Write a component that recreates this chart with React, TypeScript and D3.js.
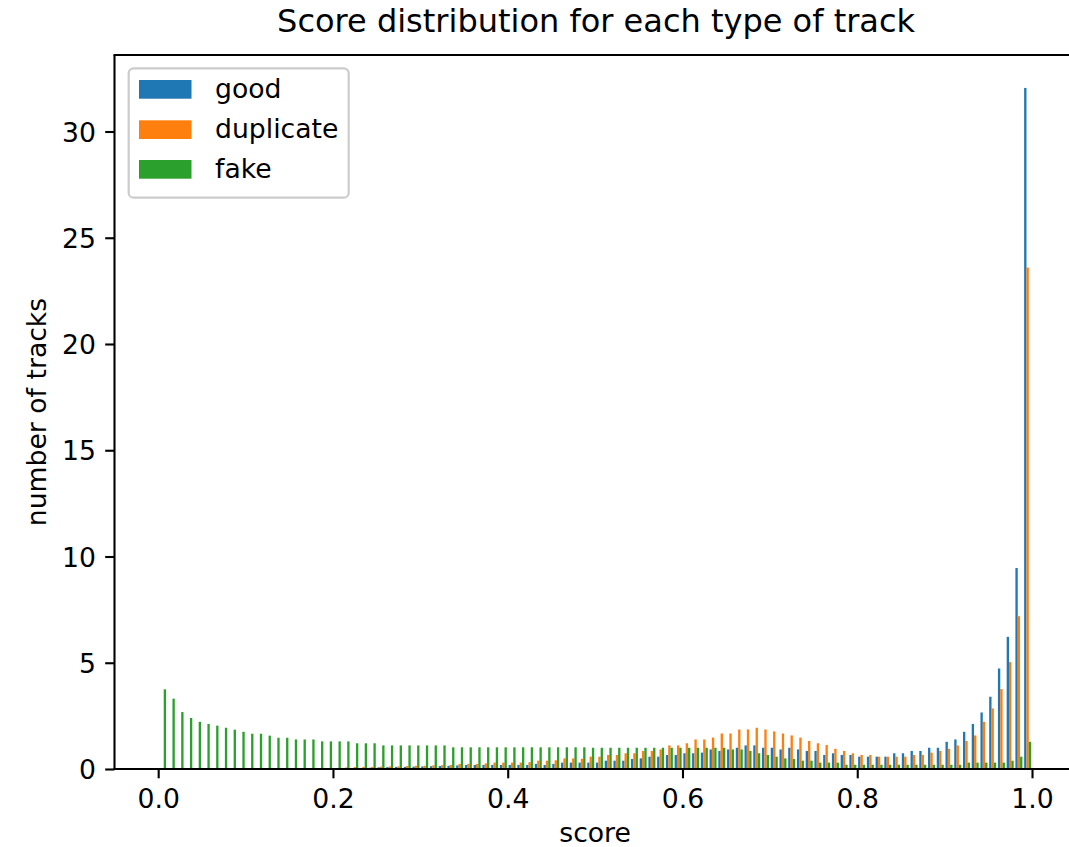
import React, { useEffect, useRef } from "react";
import * as d3 from "d3";

// 100 bins of width 0.01 from 0 to 1, density values
const binEdges = d3.range(0, 101).map((i) => i / 100);

const good = [
  0, 0, 0, 0, 0, 0, 0, 0, 0, 0,
  0, 0, 0, 0, 0, 0, 0, 0, 0, 0,
  0.02, 0.03, 0.04, 0.05, 0.06, 0.08, 0.09, 0.1, 0.1, 0.11,
  0.12, 0.13, 0.14, 0.15, 0.17, 0.19, 0.19, 0.19, 0.19, 0.19,
  0.19, 0.19, 0.19, 0.24, 0.19, 0.24, 0.3, 0.3, 0.3, 0.3,
  0.3, 0.39, 0.39, 0.39, 0.47, 0.5, 0.58, 0.58, 0.66, 0.66,
  0.74, 0.74, 0.77, 0.92, 0.85, 0.92, 1.0, 1.11, 1.11, 1.0,
  1.0, 0.92, 1.0, 0.92, 0.85, 0.85, 0.66, 0.74, 0.66, 0.66,
  0.58, 0.58, 0.58, 0.58, 0.74, 0.74, 0.85, 0.85, 1.0, 1.0,
  1.28, 1.39, 1.75, 2.12, 2.66, 3.4, 4.73, 6.22, 9.46, 32.05,
];

const duplicate = [
  0, 0, 0, 0, 0, 0, 0, 0, 0, 0,
  0, 0, 0, 0, 0, 0, 0, 0, 0.03, 0.04,
  0.05, 0.07, 0.09, 0.1, 0.1, 0.11, 0.12, 0.12, 0.14, 0.15,
  0.15, 0.17, 0.18, 0.19, 0.24, 0.24, 0.24, 0.26, 0.3, 0.3,
  0.3, 0.3, 0.32, 0.39, 0.39, 0.41, 0.5, 0.5, 0.48, 0.58,
  0.58, 0.66, 0.66, 0.74, 0.74, 0.85, 0.85, 0.92, 1.11, 1.11,
  1.21, 1.39, 1.39, 1.48, 1.67, 1.67, 1.86, 1.86, 1.94, 1.86,
  1.77, 1.67, 1.58, 1.48, 1.32, 1.21, 1.13, 0.95, 0.85, 0.74,
  0.66, 0.66, 0.58, 0.58, 0.58, 0.58, 0.66, 0.66, 0.77, 0.85,
  0.95, 1.11, 1.32, 1.58, 2.22, 2.85, 3.76, 5.03, 7.19, 23.6,
];

const fake = [
  3.75, 3.31, 2.68, 2.4, 2.22, 2.12, 2.04, 1.94, 1.85, 1.75,
  1.66, 1.66, 1.57, 1.47, 1.47, 1.39, 1.39, 1.39, 1.3, 1.3,
  1.3, 1.3, 1.21, 1.21, 1.21, 1.11, 1.11, 1.11, 1.11, 1.11,
  1.11, 1.11, 1.11, 1.02, 1.02, 1.02, 1.02, 1.02, 1.02, 1.02,
  1.02, 1.02, 1.02, 1.02, 1.02, 1.02, 1.02, 1.02, 1.02, 1.0,
  1.0, 1.0, 1.0, 1.0, 1.0, 1.0, 1.0, 1.0, 1.0, 1.0,
  1.0, 1.0, 1.0, 1.0, 1.0, 0.92, 0.92, 0.85, 0.74, 0.66,
  0.58, 0.5, 0.47, 0.39, 0.39, 0.3, 0.3, 0.3, 0.2, 0.2,
  0.2, 0.2, 0.2, 0.2, 0.2, 0.2, 0.2, 0.2, 0.2, 0.2,
  0.2, 0.2, 0.3, 0.3, 0.3, 0.3, 0.3, 0.39, 0.58, 1.28,
];

const seriesNames = ["good", "duplicate", "fake"];
const seriesColors = ["#1f77b4", "#ff7f0e", "#2ca02c"];
const xTicks = [0, 0.2, 0.4, 0.6, 0.8, 1.0];
const yTicks = [0, 5, 10, 15, 20, 25, 30];

const FONT = "DejaVu Sans, sans-serif";

const App = () => {
  const chartRef = useRef<SVGSVGElement>(null);

  useEffect(() => {
    const svg = d3.select(chartRef.current);
    svg.selectAll("*").remove();

    const width = 1069;
    const height = 847;
    // right edge of the axes lies past the picture, as in the cropped original
    const plot = { left: 114.5, right: 1075.7, top: 55, bottom: 769 };
    const fs = 26.67;

    const x = d3.scaleLinear().domain([-0.05, 1.05]).range([plot.left, plot.right]);
    const y = d3.scaleLinear().domain([0, 33.6]).range([plot.bottom, plot.top]);

    svg.attr("width", width).attr("height", height);

    svg.append("rect").attr("width", width).attr("height", height).attr("fill", "#fff");

    // Bars: three side-by-side bars per bin, 80% of bin width in total
    const allSeries = [good, duplicate, fake];
    const nx = allSeries.length;
    const bars = svg.append("g");
    allSeries.forEach((values, s) => {
      bars
        .append("g")
        .attr("fill", seriesColors[s])
        .selectAll("rect")
        .data(values)
        .enter()
        .append("rect")
        .attr("x", (d, i) => {
          const w = binEdges[i + 1] - binEdges[i];
          const center = (binEdges[i] + binEdges[i + 1]) / 2;
          const barW = (0.8 * w) / nx;
          const left = center - 0.4 * w + s * barW;
          return x(left);
        })
        .attr("width", (d, i) => x(binEdges[i] + (0.8 * (binEdges[i + 1] - binEdges[i])) / nx) - x(binEdges[i]))
        .attr("y", (d) => y(d))
        .attr("height", (d) => y(0) - y(d));
    });

    // Spines (left, bottom, top; the right one is cut off)
    const spines = svg.append("g").attr("stroke", "#000").attr("stroke-width", 2.1).attr("fill", "none");
    spines.append("line").attr("x1", plot.left).attr("x2", plot.left).attr("y1", plot.top).attr("y2", plot.bottom);
    spines.append("line").attr("x1", plot.left - 1).attr("x2", width).attr("y1", plot.bottom).attr("y2", plot.bottom);
    spines.append("line").attr("x1", plot.left - 1).attr("x2", width).attr("y1", plot.top).attr("y2", plot.top);

    // X Axis
    const xAxis = svg
      .append("g")
      .attr("transform", `translate(0,${plot.bottom})`)
      .call(
        d3
          .axisBottom(x)
          .tickValues(xTicks)
          .tickFormat(d3.format(".1f"))
          .tickSize(9.3)
          .tickPadding(9.3)
          .tickSizeOuter(0)
      );
    xAxis.select(".domain").remove();
    xAxis.selectAll("line").attr("stroke", "#000").attr("stroke-width", 2.1);
    xAxis.selectAll("text").attr("font-size", fs).attr("font-family", FONT).attr("fill", "#000").attr("dy", "0.76em");

    // Y Axis
    const yAxis = svg
      .append("g")
      .attr("transform", `translate(${plot.left},0)`)
      .call(d3.axisLeft(y).tickValues(yTicks).tickSize(9.3).tickPadding(9.3).tickSizeOuter(0));
    yAxis.select(".domain").remove();
    yAxis.selectAll("line").attr("stroke", "#000").attr("stroke-width", 2.1);
    yAxis.selectAll("text").attr("font-size", fs).attr("font-family", FONT).attr("fill", "#000").attr("dy", "0.36em");

    // Labels
    svg
      .append("text")
      .attr("x", (x(0) + x(1)) / 2 + 1)
      .attr("y", 32)
      .attr("text-anchor", "middle")
      .attr("font-family", FONT)
      .attr("font-size", 32)
      .text("Score distribution for each type of track");

    svg
      .append("text")
      .attr("x", (x(0) + x(1)) / 2)
      .attr("y", 842)
      .attr("text-anchor", "middle")
      .attr("font-family", FONT)
      .attr("font-size", fs)
      .text("score");

    svg
      .append("text")
      .attr("transform", `translate(46,${(plot.top + plot.bottom) / 2}) rotate(-90)`)
      .attr("text-anchor", "middle")
      .attr("font-family", FONT)
      .attr("font-size", fs)
      .text("number of tracks");

    // Legend
    const legend = svg.append("g");
    legend
      .append("rect")
      .attr("x", 128.7)
      .attr("y", 68.3)
      .attr("width", 220)
      .attr("height", 129.4)
      .attr("rx", 5)
      .attr("fill", "#fff")
      .attr("fill-opacity", 0.8)
      .attr("stroke", "#cccccc")
      .attr("stroke-width", 2.2);
    const rows = [89.3, 129.6, 169.3];
    seriesNames.forEach((name, i) => {
      legend
        .append("rect")
        .attr("x", 139)
        .attr("y", rows[i] - 9.3)
        .attr("width", 52.5)
        .attr("height", 18.7)
        .attr("fill", seriesColors[i]);
      legend
        .append("text")
        .attr("x", 215)
        .attr("y", rows[i] + 8.5)
        .attr("font-family", FONT)
        .attr("font-size", fs)
        .attr("fill", "#000")
        .text(name);
    });
  }, []);

  return (
    <div style={{ position: "absolute", left: 0, top: 0 }}>
      <svg ref={chartRef} style={{ display: "block" }}></svg>
    </div>
  );
};

export default App;
